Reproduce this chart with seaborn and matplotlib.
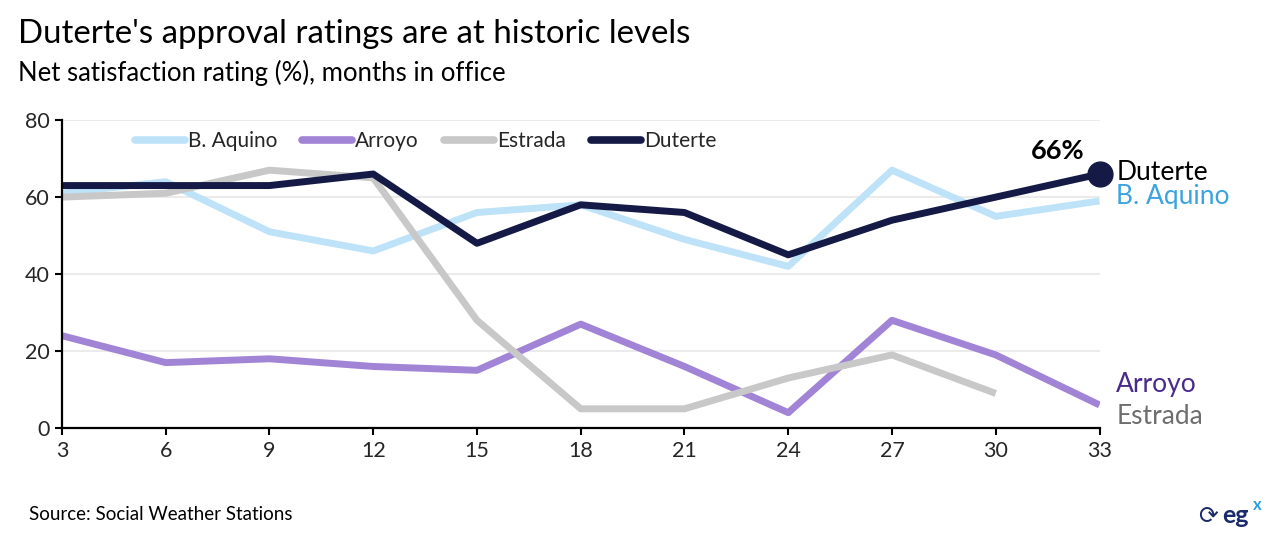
import numpy as np
import pandas as pd
import matplotlib
matplotlib.use("Agg")
import matplotlib.pyplot as plt
import seaborn as sns

months = [3, 6, 9, 12, 15, 18, 21, 24, 27, 30, 33]
aquino = [61, 64, 51, 46, 56, 58, 49, 42, 67, 55, 59]
arroyo = [24, 17, 18, 16, 15, 27, 16, 4, 28, 19, 6]
estrada = [60, 61, 67, 65, 28, 5, 5, 13, 19, 9, np.nan]
duterte = [63, 63, 63, 66, 48, 58, 56, 45, 54, 60, 66]
series_names = ["B. Aquino", "Arroyo", "Estrada", "Duterte"]
yticks = [0, 20, 40, 60, 80]

colors = {"B. Aquino": "#BEE3F8", "Arroyo": "#A284D6", "Estrada": "#C8C8C8", "Duterte": "#141A45"}
label_colors = {"Duterte": "#000000", "B. Aquino": "#3BA3E0", "Arroyo": "#4A2A8A", "Estrada": "#6E6E6E"}

df = pd.DataFrame({
    "month": months * 4,
    "value": aquino + arroyo + estrada + duterte,
    "president": sum([[n] * len(months) for n in series_names], []),
})

sns.set_theme(style="white")
plt.rcParams["font.family"] = ["Lato", "DejaVu Sans"]

fig = plt.figure(figsize=(12.8, 5.46), dpi=100)
ax = fig.add_axes([0.0484, 0.216, 0.8106, 0.564])

sns.lineplot(data=df, x="month", y="value", hue="president", hue_order=series_names,
             palette=colors, linewidth=5, ax=ax, legend=True, solid_capstyle="butt")

ax.set_xlim(3, 33)
ax.set_ylim(0, 80)
ax.set_xticks(months)
ax.set_yticks(yticks)
ax.tick_params(axis="both", labelsize=15.5, length=5, width=1.5, direction="out", color="black",
               left=True, bottom=True, pad=4)
ax.set_xlabel("")
ax.set_ylabel("")
for s in ["top", "right"]:
    ax.spines[s].set_visible(False)
for s in ["left", "bottom"]:
    ax.spines[s].set_color("black")
    ax.spines[s].set_linewidth(1.6)
ax.grid(axis="y", color="#EBEBEB", linewidth=1.5)
ax.set_axisbelow(True)

leg = ax.legend(loc="upper left", bbox_to_anchor=(0.052, 1.025), ncol=4, frameon=False,
                fontsize=15, handlelength=2.4, handletextpad=0.15, columnspacing=1.2)
for line in leg.get_lines():
    line.set_linewidth(5.5)
    line.set_solid_capstyle("round")

# endpoint marker and labels
ax.scatter([months[-1]], [duterte[-1]], s=320, color=colors["Duterte"], zorder=5, clip_on=False)
ax.annotate(f"{duterte[-1]}%", (months[-1], duterte[-1]), xytext=(-11, 8), textcoords="offset points",
            ha="right", va="bottom", fontsize=19.5, fontweight="bold", color="black")
ax.annotate("Duterte", (months[-1], 66), xytext=(12, 1), textcoords="offset points",
            ha="left", va="center", fontsize=19, color=label_colors["Duterte"], annotation_clip=False)
ax.annotate("B. Aquino", (months[-1], 66), xytext=(12, -16), textcoords="offset points",
            ha="left", va="center", fontsize=19, color=label_colors["B. Aquino"], annotation_clip=False)
ax.annotate("Arroyo", (months[-1], 6), xytext=(12, 15), textcoords="offset points",
            ha="left", va="center", fontsize=19, color=label_colors["Arroyo"], annotation_clip=False)
ax.annotate("Estrada", (months[-1], 6), xytext=(12, -8), textcoords="offset points",
            ha="left", va="center", fontsize=19, color=label_colors["Estrada"], annotation_clip=False)

fig.text(0.014, 0.937, "Duterte's approval ratings are at historic levels", fontsize=23.8, color="black",
         va="center", ha="left")
fig.text(0.014, 0.867, "Net satisfaction rating (%), months in office", fontsize=18.5, color="black",
         va="center", ha="left")
fig.text(0.023, 0.057, "Source: Social Weather Stations", fontsize=13.5, color="black", va="center", ha="left")

# logo
fig.text(0.944, 0.055, "\u27f3", fontsize=17, color="#1B2A6B", va="center", ha="center", family="DejaVu Sans")
fig.text(0.955, 0.055, "eg", fontsize=18, fontweight="bold", color="#1B2A6B", va="center", ha="left")
fig.text(0.979, 0.075, "x", fontsize=12, fontweight="bold", color="#2A9FE0", va="center", ha="left")

fig.savefig("out.png", dpi=100)
